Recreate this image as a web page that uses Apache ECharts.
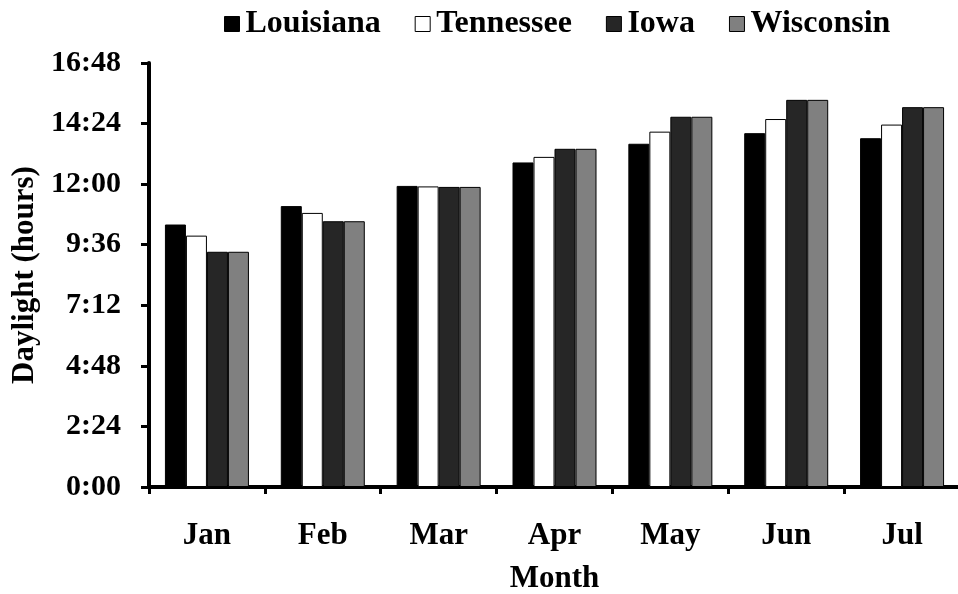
<!DOCTYPE html>
<html>
<head>
<meta charset="utf-8">
<script src="https://cdn.jsdelivr.net/npm/echarts@6/dist/echarts.min.js"></script>
<style>
  html, body { margin: 0; padding: 0; background: #fff; }
  #chart { width: 958px; height: 594px; }
</style>
</head>
<body>
<div id="chart"></div>
<script>
// Monthly daylight length, in decimal hours
const months = ['Jan', 'Feb', 'Mar', 'Apr', 'May', 'Jun', 'Jul'];
const louisiana = [10.40, 11.13, 11.93, 12.86, 13.60, 14.02, 13.82];
const tennessee = [9.96, 10.86, 11.91, 13.08, 14.08, 14.58, 14.36];
const iowa      = [9.32, 10.53, 11.89, 13.40, 14.67, 15.34, 15.05];
const wisconsin = [9.32, 10.53, 11.89, 13.40, 14.67, 15.34, 15.05];

const FONT = '"Liberation Serif", "Times New Roman", serif';

function hm(v) {
  const total = Math.round(v * 60);
  const h = Math.floor(total / 60);
  const m = total % 60;
  return h + ':' + (m < 10 ? '0' + m : m);
}

function barSeries(name, data, color) {
  return {
    name: name,
    type: 'bar',
    data: data,
    barWidth: 21,
    barGap: '0%',
    itemStyle: { color: color, borderColor: '#000', borderWidth: 1 }
  };
}

const chart = echarts.init(document.getElementById('chart'), null, { renderer: 'canvas' });
chart.setOption({
  animation: false,
  textStyle: { fontFamily: FONT },
  legend: {
    top: 3,
    left: 219,
    icon: 'rect',
    itemWidth: 15,
    itemHeight: 15,
    itemGap: 34,
    textStyle: { fontFamily: FONT, fontWeight: 'bold', fontSize: 32, color: '#000', padding: [0, 0, 0, 1] },
    data: [
      { name: 'Louisiana', itemStyle: { color: '#000', borderColor: '#000', borderWidth: 1 } },
      { name: 'Tennessee', itemStyle: { color: '#fff', borderColor: '#000', borderWidth: 1 } },
      { name: 'Iowa', itemStyle: { color: '#262626', borderColor: '#000', borderWidth: 1 } },
      { name: 'Wisconsin', itemStyle: { color: '#808080', borderColor: '#000', borderWidth: 1 } }
    ]
  },
  grid: { left: 149, top: 63, width: 811, bottom: 107, containLabel: false, outerBoundsMode: 'none' },
  xAxis: {
    type: 'category',
    data: months,
    name: 'Month',
    nameLocation: 'middle',
    nameGap: 76,
    nameTextStyle: { fontFamily: FONT, fontWeight: 'bold', fontSize: 31, color: '#000' },
    axisLine: { lineStyle: { color: '#000', width: 4 } },
    axisTick: { show: true, length: 7, lineStyle: { color: '#000', width: 3 } },
    axisLabel: { fontFamily: FONT, fontWeight: 'bold', fontSize: 31, color: '#000', margin: 33 },
    splitLine: { show: false }
  },
  yAxis: {
    type: 'value',
    min: 0,
    max: 16.8,
    interval: 2.4,
    name: 'Daylight (hours)',
    nameLocation: 'middle',
    nameRotate: 90,
    nameGap: 108,
    nameTextStyle: { fontFamily: FONT, fontWeight: 'bold', fontSize: 31, color: '#000' },
    axisLine: { show: true, lineStyle: { color: '#000', width: 4 } },
    axisTick: { show: true, length: 8, lineStyle: { color: '#000', width: 3 } },
    axisLabel: { fontFamily: FONT, fontWeight: 'bold', fontSize: 30, color: '#000', margin: 28, formatter: hm },
    splitLine: { show: false }
  },
  series: [
    barSeries('Louisiana', louisiana, '#000'),
    barSeries('Tennessee', tennessee, '#fff'),
    barSeries('Iowa', iowa, '#262626'),
    barSeries('Wisconsin', wisconsin, '#808080')
  ]
});
</script>
</body>
</html>
